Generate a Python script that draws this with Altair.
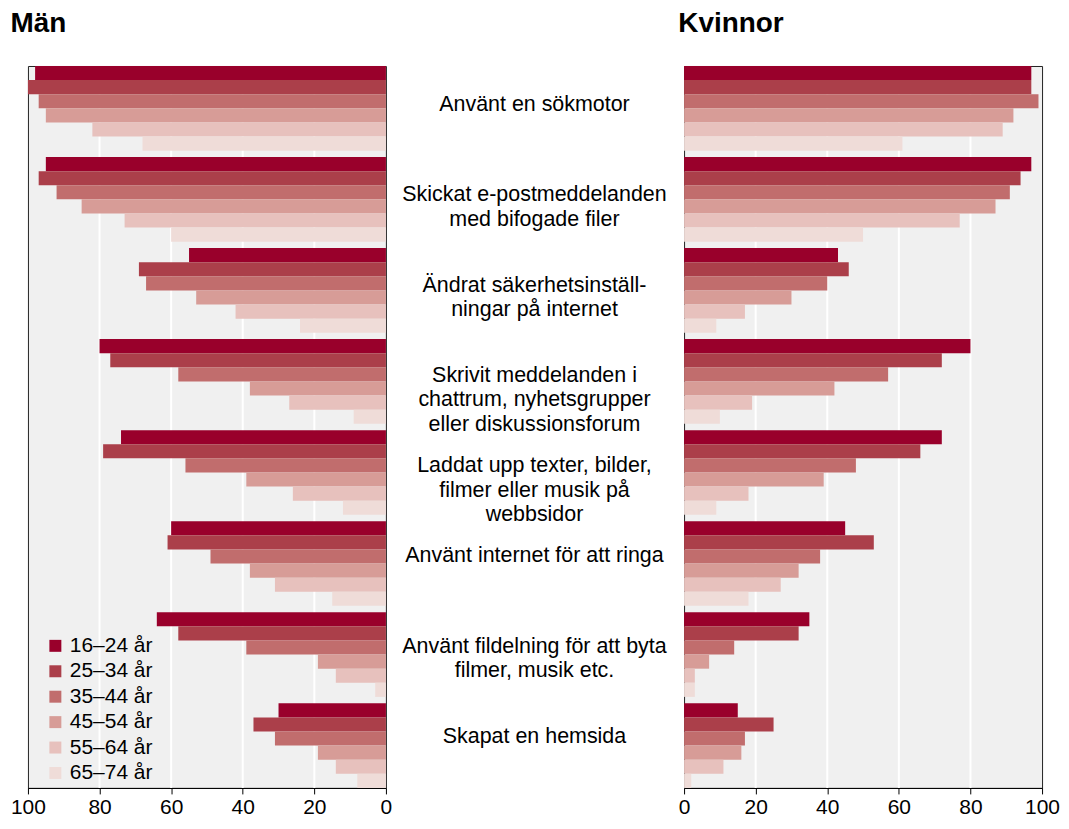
import altair as alt
import pandas as pd

activities = [
    "Använt en sökmotor",
    "Skickat e-postmeddelanden med bifogade filer",
    "Ändrat säkerhetsinställningar på internet",
    "Skrivit meddelanden i chattrum, nyhetsgrupper eller diskussionsforum",
    "Laddat upp texter, bilder, filmer eller musik på webbsidor",
    "Använt internet för att ringa",
    "Använt fildelning för att byta filmer, musik etc.",
    "Skapat en hemsida",
]
activity_labels = [
    "Använt en sökmotor",
    "Skickat e-postmeddelanden\nmed bifogade filer",
    "Ändrat säkerhetsinställ-\nningar på internet",
    "Skrivit meddelanden i\nchattrum, nyhetsgrupper\neller diskussionsforum",
    "Laddat upp texter, bilder,\nfilmer eller musik på\nwebbsidor",
    "Använt internet för att ringa",
    "Använt fildelning för att byta\nfilmer, musik etc.",
    "Skapat en hemsida",
]
ages = ["16–24 år", "25–34 år", "35–44 år", "45–54 år", "55–64 år", "65–74 år"]
age_colors = ["#99002B", "#AB3F4A", "#C16D6D", "#D79C97", "#E7C1BD", "#EFDCD8"]

# Men, per activity, values for the six age groups
man_sokmotor = [98, 100, 97, 95, 82, 68]
man_epost = [95, 97, 92, 85, 73, 60]
man_sakerhet = [55, 69, 67, 53, 42, 24]
man_chatt = [80, 77, 58, 38, 27, 9]
man_ladda = [74, 79, 56, 39, 26, 12]
man_ringa = [60, 61, 49, 38, 31, 15]
man_fildelning = [64, 58, 39, 19, 14, 3]
man_hemsida = [30, 37, 31, 19, 14, 8]

# Women
kvinna_sokmotor = [97, 97, 99, 92, 89, 61]
kvinna_epost = [97, 94, 91, 87, 77, 50]
kvinna_sakerhet = [43, 46, 40, 30, 17, 9]
kvinna_chatt = [80, 72, 57, 42, 19, 10]
kvinna_ladda = [72, 66, 48, 39, 18, 9]
kvinna_ringa = [45, 53, 38, 32, 27, 18]
kvinna_fildelning = [35, 32, 14, 7, 3, 3]
kvinna_hemsida = [15, 25, 17, 16, 11, 2]

tick_values = [0, 20, 40, 60, 80, 100]
grid_values = [20, 40, 60, 80]

men_lists = [man_sokmotor, man_epost, man_sakerhet, man_chatt, man_ladda,
             man_ringa, man_fildelning, man_hemsida]
women_lists = [kvinna_sokmotor, kvinna_epost, kvinna_sakerhet, kvinna_chatt,
               kvinna_ladda, kvinna_ringa, kvinna_fildelning, kvinna_hemsida]


def long_df(lists):
    rows = []
    for act, vals in zip(activities, lists):
        for age, v in zip(ages, vals):
            rows.append({"activity": act, "age": age, "value": v})
    return pd.DataFrame(rows)


men_df = long_df(men_lists)
women_df = long_df(women_lists)
grid_df = pd.DataFrame({"v": grid_values})
label_df = pd.DataFrame({"activity": activities, "label": activity_labels})

FONT = "Liberation Sans"
W, H = 359, 724
MID_W = 299
yscale = alt.Scale(domain=activities, paddingInner=0.07, paddingOuter=0)


def panel(df, reverse, title, legend):
    xscale = alt.Scale(domain=[0, 100], reverse=reverse, nice=False)
    xaxis = alt.Axis(values=tick_values, grid=False, title=None, labelFontSize=21,
                     labelColor="black", labelFont=FONT, tickColor="black",
                     domainColor="black", tickSize=6, labelPadding=3,
                     labelFlush=False, labelOverlap=False)
    grid = alt.Chart(grid_df).mark_rule(color="white", strokeWidth=2).encode(
        x=alt.X("v:Q", scale=xscale, axis=xaxis)
    )
    bars = alt.Chart(df).mark_bar().encode(
        x=alt.X("value:Q", scale=xscale, axis=xaxis),
        y=alt.Y("activity:N", sort=activities, scale=yscale, axis=None),
        yOffset=alt.YOffset("age:N", sort=ages, scale=alt.Scale(domain=ages, paddingInner=0, paddingOuter=0)),
        color=alt.Color("age:N", sort=ages, scale=alt.Scale(domain=ages, range=age_colors), legend=legend),
    )
    return alt.layer(grid, bars).properties(
        width=W, height=H,
        title=alt.TitleParams(title, anchor="start", fontSize=28, fontWeight="bold",
                              font=FONT, color="black", offset=27),
        view=alt.ViewBackground(fill="#F0F0F0", stroke="#222222", strokeWidth=1),
    )


legend = alt.Legend(orient="none", legendX=17, legendY=571, title=None,
                    symbolType="square", symbolSize=144, symbolStrokeWidth=0,
                    labelFontSize=21, labelFont=FONT, labelColor="black",
                    rowPadding=3.5, labelOffset=4)

left = panel(men_df, True, "Män", legend)
right = panel(women_df, False, "Kvinnor", None)

middle = alt.Chart(label_df).mark_text(
    fontSize=21.5, font=FONT, lineBreak="\n", lineHeight=24.5, align="center",
    baseline="middle", dy=-6, color="black"
).encode(
    y=alt.Y("activity:N", sort=activities, scale=yscale, axis=None),
    x=alt.value(149),
    text="label:N",
).properties(width=MID_W, height=H, view=alt.ViewBackground(stroke="transparent"))

chart = alt.hconcat(left, middle, right, spacing=0, bounds="flush").resolve_scale(
    color="independent", x="independent", y="independent"
).properties(
    padding={"left": 1, "top": 0, "right": 0, "bottom": 0}
).configure(font=FONT).configure_view(stroke="transparent")

chart.save("out.html", embed_options={"renderer": "svg", "actions": False})
